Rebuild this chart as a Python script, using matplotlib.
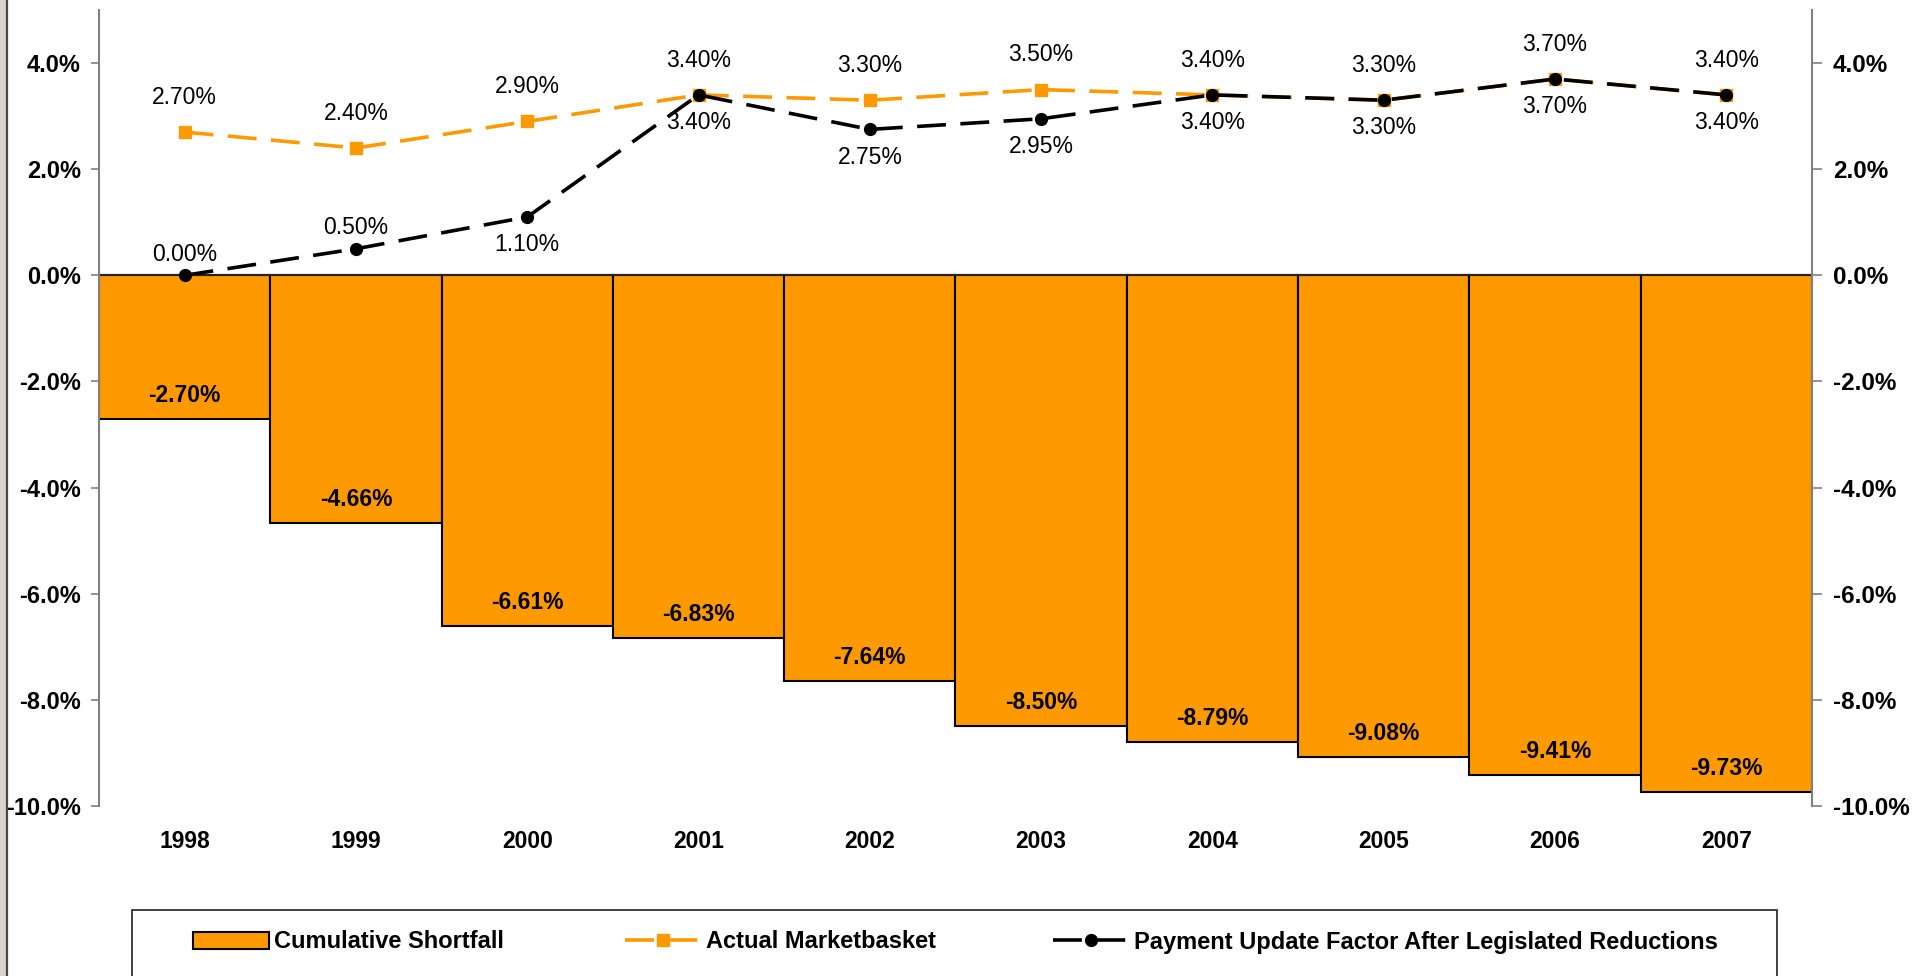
import matplotlib
matplotlib.use("Agg")
import matplotlib.pyplot as plt
from matplotlib import font_manager
from matplotlib.patches import Patch, Rectangle
from matplotlib.lines import Line2D
import numpy as np

plt.rcParams['font.family'] = ['Liberation Sans', 'DejaVu Sans']

years = ['1998', '1999', '2000', '2001', '2002', '2003', '2004', '2005', '2006', '2007']
shortfall = [-2.70, -4.66, -6.61, -6.83, -7.64, -8.50, -8.79, -9.08, -9.41, -9.73]
marketbasket = [2.70, 2.40, 2.90, 3.40, 3.30, 3.50, 3.40, 3.30, 3.70, 3.40]
payment_update = [0.00, 0.50, 1.10, 3.40, 2.75, 2.95, 3.40, 3.30, 3.70, 3.40]
# where each payment label sits relative to its point
payment_label_pos = ['above', 'above', 'below', 'below', 'below', 'below', 'below', 'below', 'below', 'below']
yticks = [-10, -8, -6, -4, -2, 0, 2, 4]

ORANGE = '#FF9900'
W, H = 1915, 976

# condensed face for the legend if it is around
installed = {f.name for f in font_manager.fontManager.ttflist}
legend_family = ['Liberation Sans Narrow'] if 'Liberation Sans Narrow' in installed else ['Liberation Sans']

fig = plt.figure(figsize=(W / 100, H / 100), dpi=100)
fig.patch.set_facecolor('white')

# grey strip + dark rule down the left edge
fig.patches.append(Rectangle((0, 0), 6 / W, 1, transform=fig.transFigure,
                             facecolor='#d8d3ce', edgecolor='none', zorder=0))
fig.add_artist(Line2D([7 / W, 7 / W], [0, 1], transform=fig.transFigure,
                      color='#4a4a4a', lw=1.6))

ax = fig.add_axes([99 / W, 1 - 806 / H, (1812 - 99) / W, (806 - 10) / H])
x = np.arange(len(years))

ax.bar(x, shortfall, width=1.0, color=ORANGE, edgecolor='black', linewidth=1.5, zorder=2)
ax.axhline(0, color='#222222', lw=1.5, zorder=2.5)

ax.plot(x, marketbasket, color=ORANGE, lw=2.6, dashes=(8, 4), marker='s',
        markersize=8.5, zorder=4)
ax.plot(x, payment_update, color='black', lw=2.6, dashes=(8, 4), marker='o',
        markersize=8.5, zorder=5)

for i, v in enumerate(shortfall):
    ax.annotate(f'{v:.2f}%', (i, v), xytext=(0, 17), textcoords='offset points',
                ha='center', va='center', fontsize=16.5, fontweight='bold', zorder=6)
for i, v in enumerate(marketbasket):
    ax.annotate(f'{v:.2f}%', (i, v), xytext=(0, 25), textcoords='offset points',
                ha='center', va='center', fontsize=16.5, zorder=6)
for i, v in enumerate(payment_update):
    dy = 15 if payment_label_pos[i] == 'above' else -20
    ax.annotate(f'{v:.2f}%', (i, v), xytext=(0, dy), textcoords='offset points',
                ha='center', va='center', fontsize=16.5, zorder=6)

ax.set_xlim(-0.5, 9.5)
ax.set_ylim(-10, 5)
ax.set_xticks(x)
ax.set_xticklabels(years, fontsize=16.5, fontweight='bold')
ax.tick_params(axis='x', length=0, pad=17)
ax.set_yticks(yticks)
ax.set_yticklabels([f'{t:.1f}%' for t in yticks], fontsize=17, fontweight='bold')
ax.tick_params(axis='y', length=6, width=1.2, color='#808080', pad=7)
for side in ['top', 'bottom', 'right']:
    ax.spines[side].set_visible(False)
ax.spines['left'].set_color('#808080')
ax.spines['left'].set_linewidth(1.5)

ax2 = ax.twinx()
ax2.set_ylim(-10, 5)
ax2.set_yticks(yticks)
ax2.set_yticklabels([f'{t:.1f}%' for t in yticks], fontsize=17.5, fontweight='bold')
ax2.tick_params(axis='y', length=7, width=1.2, color='#808080', pad=8)
for side in ['top', 'bottom', 'left']:
    ax2.spines[side].set_visible(False)
ax2.spines['right'].set_color('#808080')
ax2.spines['right'].set_linewidth(1.5)

# legend: one frame, three entries placed along it
fig.patches.append(Rectangle((132 / W, -0.05), (1777 - 132) / W, 0.05 + 1 - 910 / H,
                             transform=fig.transFigure, facecolor='white',
                             edgecolor='#333333', lw=1.3, zorder=1))
handles = [
    Patch(facecolor=ORANGE, edgecolor='black', linewidth=1.5, label='Cumulative Shortfall'),
    Line2D([], [], color=ORANGE, lw=2.6, dashes=(8, 4), marker='s', markersize=8.5,
           label='Actual Marketbasket'),
    Line2D([], [], color='black', lw=2.6, dashes=(8, 4), marker='o', markersize=8.5,
           label='Payment Update Factor After Legislated Reductions'),
]
legend_x = [193, 625, 1053]
for h, lx in zip(handles, legend_x):
    fig.legend(handles=[h], loc='center left', bbox_to_anchor=(lx / W, 1 - 942 / H),
               frameon=False, handlelength=3.2, handletextpad=0.25, borderpad=0,
               borderaxespad=0, prop={'family': legend_family, 'weight': 'bold', 'size': 17})

fig.savefig('out.png', dpi=100)
